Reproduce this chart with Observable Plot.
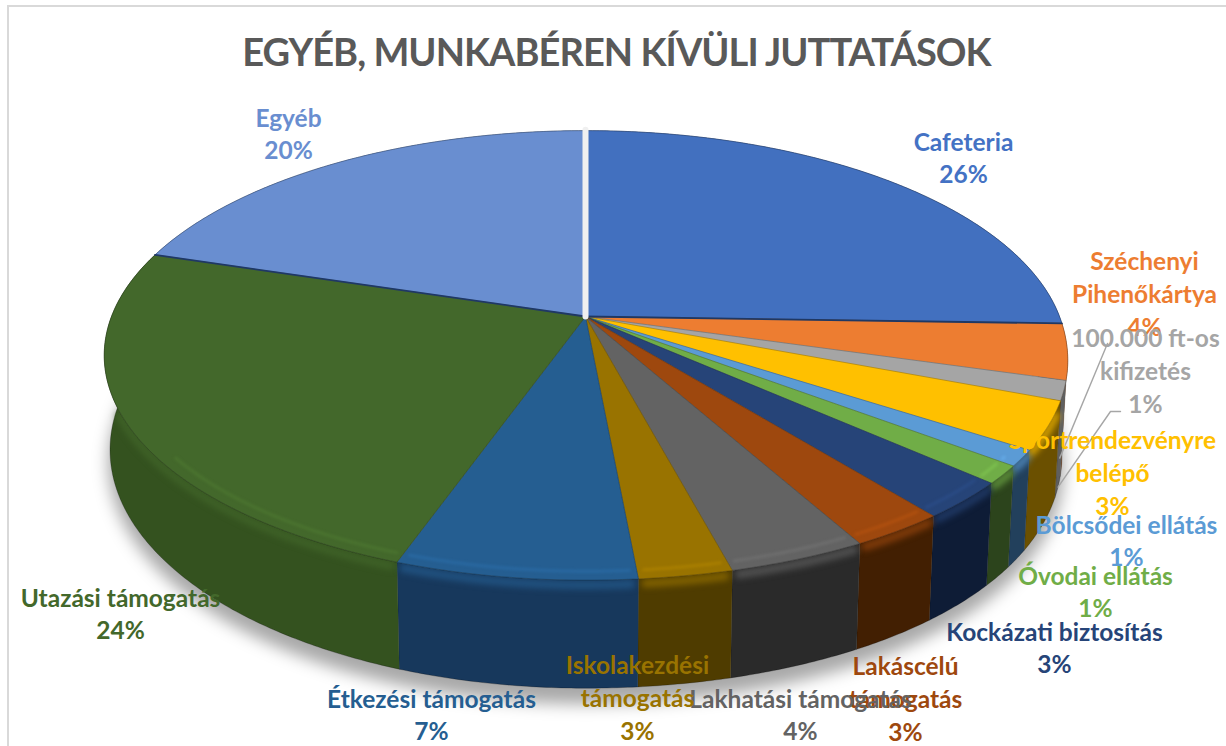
<!DOCTYPE html>
<html lang="hu">
<head>
<meta charset="utf-8">
<script src="https://cdn.jsdelivr.net/npm/d3@7"></script>
<script src="https://cdn.jsdelivr.net/npm/@observablehq/plot@0.6"></script>
<style>
html,body{margin:0;padding:0;background:#fff;overflow:hidden}
#frame{position:absolute;left:7px;top:5px;width:1400px;height:900px;border:2px solid #d9d9d9;box-sizing:border-box;pointer-events:none}
h1{position:relative;margin:0;height:84px;text-align:center;font:700 38px/102px Lato,sans-serif;letter-spacing:-0.95px;color:#595959;padding-left:7px;box-sizing:border-box;width:1226px;white-space:nowrap}
#chart{position:relative}
#chart svg{display:block;background:transparent}
</style>
</head>
<body>
<div id="frame"></div>
<h1>EGYÉB, MUNKABÉREN KÍVÜLI JUTTATÁSOK</h1>
<div id="chart"></div>
<script>
// ---- data (clockwise from 12 o'clock) ----
const categories = ["Cafeteria","Széchenyi\nPihenőkártya","100.000 ft-os\nkifizetés","Sportrendezvényre\nbelépő","Bölcsődei ellátás","Óvodai ellátás","Kockázati biztosítás","Lakáscélú\ntámogatás","Lakhatási támogatás","Iskolakezdési\ntámogatás","Étkezési támogatás","Utazási támogatás","Egyéb"];
const shares = [25.5,4.0,1.4,3.45,1.15,1.3,2.7,2.7,3.85,2.55,6.8,24.4,20.2];
// ---- styling ----
const topColors  = ["#4270bf","#ed7d31","#a5a5a5","#ffc000","#5b9bd5","#70ad47","#264478","#9e480e","#636363","#997300","#255e91","#43682b","#698ed0"];
const wallColors = ["#2a4a80","#8a4a1d","#5f5f5f","#6b5000","#22405c","#2c441c","#0e1c36","#421f02","#2a2a2a","#4f3c00","#17385c","#34521f","#3c5a90"];
const textColors = ["#4472c4","#ed7d31","#a5a5a5","#ffc000","#5b9bd5","#70ad47","#264478","#9e480e","#636363","#997300","#255e91","#43682b","#698ed0"];
const labelX = [963,1144,1145,1112,1126,1095,1054,905,800,637,431,120,288];
const labelY = [156,292,369,471,539,590,646,697,713,696,713,612,132];
const leaderFrom = [[[1107,343]],[[1120,411],[1110,411]]];

// ---- pie projection (perspective tilt) ----
const top0 = 84, cx = 585, cy = 316, R = 474, Ry = 218, k = 0.173, D = 92, shrink = 0.012, bulge = 30;
const rad = d => d * Math.PI / 180;
function project(a, r = 1, z = 0) {
  const u = r * Math.sin(a), v = -r * Math.cos(a), s = 1 / (1 - k * v), b = 1 - shrink * z;
  const vv = Math.max(0, v);
  return {x: cx + (R * u * s + bulge * Math.max(0, u) * vv * vv) * b, y: cy + Ry * v * s * b + D * z * s, v};
}
const total = d3.sum(shares);
let acc = 0;
const slices = shares.map((v, i) => {
  const a0 = acc / total * 2 * Math.PI; acc += v;
  const a1 = acc / total * 2 * Math.PI;
  return {i, a0, a1, mid: (a0 + a1) / 2, name: categories[i], pct: Math.round(v / total * 100)};
});
const arc = (a0, a1, r = 1, z = 0) => {
  const n = Math.max(2, Math.ceil((a1 - a0) / rad(0.5)));
  return d3.range(n + 1).map(j => project(a0 + (a1 - a0) * j / n, r, z));
};
const X = d => d.x, Y = d => d.y;

const marks = [];
// soft drop shadow below the pie
marks.push(Plot.line(arc(0, 2 * Math.PI, 1.005, 1.13), {x: X, y: Y, fill: "#000", fillOpacity: 0.34, stroke: "none", imageFilter: "blur(8px)"}));
// side walls
for (const s of slices) {
  const wall = [...arc(s.a0, s.a1, 1, 0), ...arc(s.a0, s.a1, 1, 1).reverse()];
  marks.push(Plot.line(wall, {x: X, y: Y, fill: wallColors[s.i], stroke: "#000", strokeOpacity: 0.35, strokeWidth: 0.7}));
}
// soft transition from top face to wall
for (const s of slices) {
  const front = arc(s.a0 + 0.012, s.a1 - 0.012, 1, 0.045).filter(p => p.v > 0.4);
  if (front.length > 1) marks.push(Plot.line(front, {x: X, y: Y, stroke: topColors[s.i], strokeWidth: 8, strokeOpacity: 0.7, imageFilter: "blur(3px)"}));
}
// top faces
for (const s of slices) {
  const face = [project(0, 0), ...arc(s.a0, s.a1)];
  marks.push(Plot.line(face, {x: X, y: Y, fill: topColors[s.i], stroke: d3.color(topColors[s.i]).darker(1.2).formatHex(), strokeOpacity: 0.8, strokeWidth: 0.8}));
}
// rim highlight
for (const s of slices) {
  const hi = arc(s.a0 + 0.012, s.a1 - 0.012, 0.972).filter(p => p.v > 0.58);
  if (hi.length > 1) marks.push(Plot.line(hi, {x: X, y: Y, stroke: d3.color(topColors[s.i]).brighter(0.6).formatHex(), strokeWidth: 2.5, strokeOpacity: 0.55, imageFilter: "blur(1.5px)"}));
}
// dark seams on the two long horizontal-ish slice edges
for (const a of [slices[0].a1, slices[12].a0]) {
  marks.push(Plot.line([project(0, 0), project(a)], {x: X, y: Y, stroke: "#1f3864", strokeWidth: 1.8}));
}
// white seam at 12 o'clock
marks.push(Plot.line([project(0, 0), project(0, 1.005)], {x: X, y: Y, stroke: "#f0f0f0", strokeWidth: 6}));
// leader lines to the small grey slice
const grey = slices[2];
marks.push(Plot.line([{x: leaderFrom[0][0][0], y: leaderFrom[0][0][1]}, project(grey.mid, 1, 0.7)], {x: X, y: Y, stroke: "#a6a6a6", strokeWidth: 1.4}));
marks.push(Plot.line([{x: leaderFrom[1][0][0], y: leaderFrom[1][0][1]}, {x: leaderFrom[1][1][0], y: leaderFrom[1][1][1]}, project(grey.mid, 1, 1)], {x: X, y: Y, stroke: "#a6a6a6", strokeWidth: 1.4}));
// labels
for (const s of slices) {
  marks.push(Plot.text([s], {
    x: () => labelX[s.i], y: () => labelY[s.i],
    text: d => d.name + "\n" + d.pct + "%",
    fill: textColors[s.i], fontWeight: 700, fontSize: 24.5, fontFamily: "Lato, sans-serif",
    lineHeight: 1.34, textAnchor: "middle", stroke: "none"
  }));
}
const plot = Plot.plot({
  width: 1226, height: 746 - top0, margin: 0,
  x: {domain: [0, 1226], range: [0, 1226], axis: null},
  y: {domain: [top0, 746], range: [0, 746 - top0], axis: null},
  marks
});
document.getElementById("chart").append(plot);
</script>
</body>
</html>
